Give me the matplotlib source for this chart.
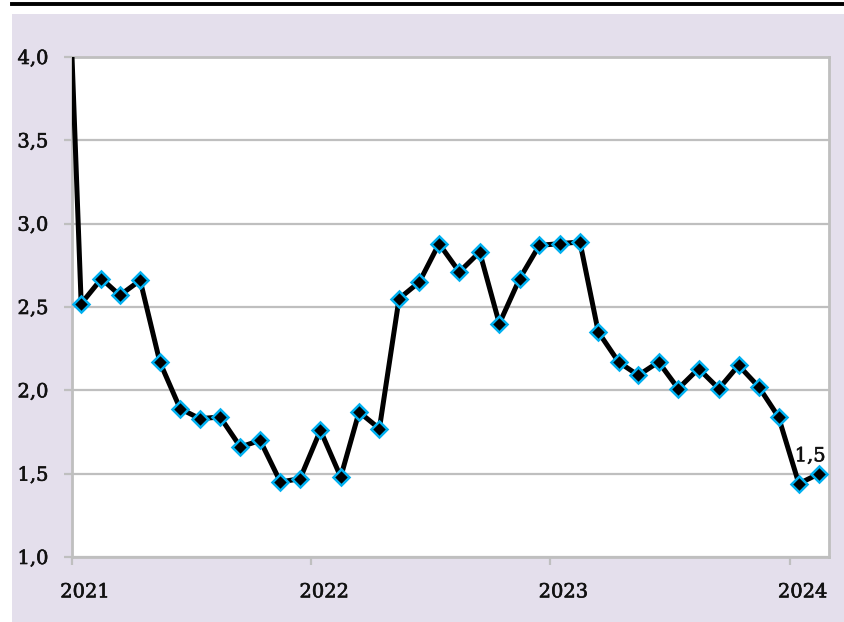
"""Monthly rate, Jan 2021 - Feb 2024, line with diamond markers on a lavender panel."""
import matplotlib
matplotlib.use("Agg")
import matplotlib.pyplot as plt
import matplotlib.transforms as mtransforms
import matplotlib.patheffects as pe
from matplotlib.patches import Rectangle
from matplotlib.lines import Line2D
import pandas as pd

# data: first value is Dec 2020 (off the chart, only the line enters from the top)
START_MONTH = "2020-12-01"
VALUES = [
    5.8,
    2.52, 2.67, 2.57, 2.66, 2.17, 1.89, 1.83, 1.84, 1.66, 1.70, 1.45, 1.47,
    1.76, 1.48, 1.87, 1.77, 2.55, 2.65, 2.88, 2.71, 2.83, 2.40, 2.67, 2.87,
    2.88, 2.89, 2.35, 2.17, 2.09, 2.17, 2.01, 2.13, 2.01, 2.15, 2.02, 1.84,
    1.44, 1.50,
]
YEAR_TICKS = ["2021", "2022", "2023", "2024"]
Y_TICKS = [1.0, 1.5, 2.0, 2.5, 3.0, 3.5, 4.0]
LAST_LABEL = "1,5"

LAVENDER = "#E4DFEC"
GRID = "#BFBFBF"
MARKER_EDGE = "#00B0F0"
FONT = "DejaVu Serif"
TEXT = "#111111"
# slightly heavier text, the original uses a darker book face
HEAVY = [pe.withStroke(linewidth=0.45, foreground=TEXT)]

dates = pd.date_range(START_MONTH, periods=len(VALUES), freq="MS") + pd.Timedelta(days=14)

fig = plt.figure(figsize=(8.45, 6.22), dpi=100)
fig.patch.set_facecolor("white")

# lavender panel and black rule on top
fig.patches.append(Rectangle((12 / 845, 0), 1 - 12 / 845, 1 - 14 / 622,
                             transform=fig.transFigure, facecolor=LAVENDER,
                             edgecolor="none", zorder=-10))
fig.lines.append(Line2D([12 / 845, 1], [1 - 3.5 / 622, 1 - 3.5 / 622],
                        transform=fig.transFigure, color="black", linewidth=2.8,
                        zorder=-5))

ax = fig.add_axes([72 / 845, 1 - 557 / 622, (829 - 72) / 845, (557 - 57) / 622])
ax.set_zorder(2)
ax.set_facecolor("white")

ax.plot(dates, VALUES, color="black", linewidth=3.6, marker="D", markersize=8.3,
        markerfacecolor="black", markeredgecolor=MARKER_EDGE, markeredgewidth=1.8,
        zorder=5)

ax.annotate(LAST_LABEL, (dates[-1], VALUES[-1]), xytext=(-6.5, 12.5),
            textcoords="offset points", ha="center", va="center",
            fontsize=14, family=FONT, color=TEXT, zorder=6, path_effects=HEAVY)

ax.set_ylim(1.0, 4.0)
ax.set_yticks(Y_TICKS)
ax.set_yticklabels([("%.1f" % v).replace(".", ",") for v in Y_TICKS])
ax.yaxis.grid(True, color=GRID, linewidth=1.6, zorder=0)
ax.set_axisbelow(True)

ax.set_xlim(pd.Timestamp("2021-01-01"), pd.Timestamp("2024-03-01"))
ax.set_xticks([pd.Timestamp(y + "-01-01") for y in YEAR_TICKS])
ax.set_xticklabels(YEAR_TICKS)

for side in ["left", "right", "top", "bottom"]:
    ax.spines[side].set_color(GRID)
    ax.spines[side].set_linewidth(2.0)

ax.tick_params(axis="both", direction="out", length=6, width=1.6, color=GRID,
               labelsize=14, labelcolor=TEXT)
ax.tick_params(axis="y", pad=11)
ax.tick_params(axis="x", pad=13)
for lab in ax.get_xticklabels() + ax.get_yticklabels():
    lab.set_family(FONT)
    lab.set_path_effects(HEAVY)

# Excel shifts the year labels a little to the right of the tick
shift = mtransforms.ScaledTranslation(13 / 100, 0, fig.dpi_scale_trans)
for lab in ax.get_xticklabels():
    lab.set_transform(lab.get_transform() + shift)

fig.savefig("out.png", dpi=100)
